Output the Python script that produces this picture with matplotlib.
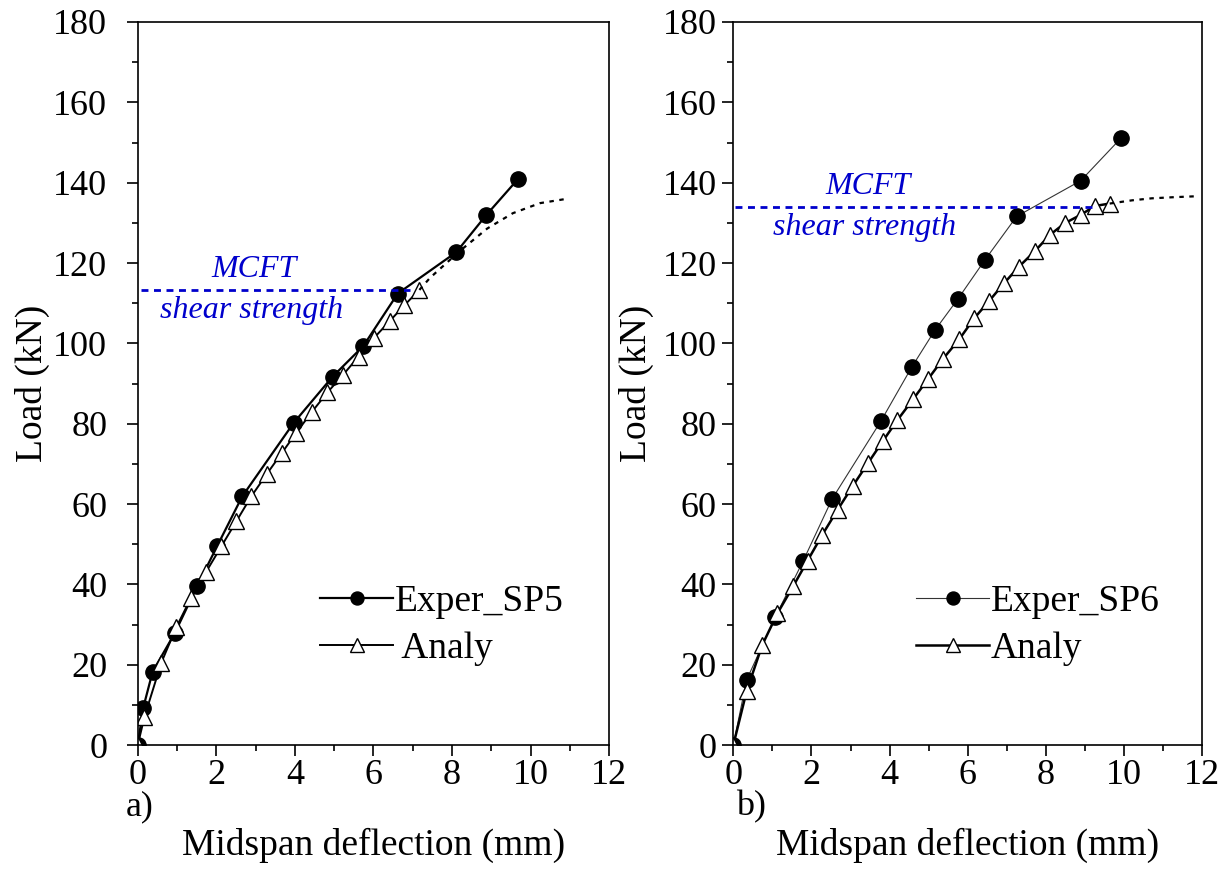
import numpy as np
import matplotlib.pyplot as plt
from matplotlib.ticker import MultipleLocator

# datos
sp5_x = [0, 0.14, 0.38, 0.94, 1.51, 2.02, 2.66, 3.97, 4.96, 5.74, 6.62, 8.11, 8.87, 9.69]
sp5_y = [0, 9.3, 18.3, 27.8, 39.5, 49.5, 61.9, 80.2, 91.7, 99.3, 112.4, 122.7, 131.9, 141.0]

an5_x = [0, 0.17, 0.6, 0.98, 1.36, 1.74, 2.13, 2.51, 2.89, 3.28, 3.66, 4.04, 4.43, 4.83,
         5.23, 5.62, 6.02, 6.41, 6.79, 7.17]
an5_y = [0, 7.0, 20.5, 29.3, 36.7, 43.1, 49.5, 55.7, 61.9, 67.4, 72.6, 77.8, 82.9, 87.8,
         92.2, 96.7, 101.4, 105.5, 109.5, 113.3]
ext5_x = [7.17, 7.44, 8.2, 8.9, 9.55, 10.24, 10.87]
ext5_y = [113.3, 116.3, 123.0, 128.6, 132.4, 134.9, 135.9]

sp6_x = [0, 0.34, 1.07, 1.79, 2.53, 3.78, 4.56, 5.16, 5.75, 6.44, 7.25, 8.89, 9.93]
sp6_y = [0, 16.2, 31.8, 45.9, 61.3, 80.7, 94.0, 103.3, 111.1, 120.8, 131.6, 140.5, 151.2]

an6_x = [0, 0.34, 0.74, 1.13, 1.53, 1.90, 2.28, 2.67, 3.05, 3.44, 3.82, 4.20, 4.60, 4.99,
         5.37, 5.78, 6.16, 6.55, 6.93, 7.31, 7.72, 8.10, 8.48, 8.89, 9.25, 9.63]
an6_y = [0, 13.4, 24.9, 32.8, 39.5, 45.9, 52.4, 58.6, 64.4, 70.1, 75.6, 80.9, 86.1, 91.2,
         96.2, 101.0, 106.2, 110.6, 115.0, 119.1, 123.0, 127.0, 129.9, 132.0, 134.2, 134.8]
ext6_x = [9.63, 10.2, 10.7, 11.3, 11.81]
ext6_y = [134.8, 135.6, 136.1, 136.4, 136.6]

mcft5 = 113.3
mcft6 = 134.0

plt.rcParams['font.family'] = ['Liberation Serif', 'DejaVu Serif']
plt.rcParams['font.size'] = 26

fig = plt.figure(figsize=(12.3, 8.73), dpi=100)
ax1 = fig.add_axes([0.112, 0.1466, 0.3832, 0.8282])
ax2 = fig.add_axes([0.5962, 0.1466, 0.3813, 0.8282])


def formato(ax, letra, pad_y, lab_pad, x_letra):
    ax.set_xlim(0, 12)
    ax.set_ylim(0, 180)
    ax.xaxis.set_major_locator(MultipleLocator(2))
    ax.xaxis.set_minor_locator(MultipleLocator(1))
    ax.yaxis.set_major_locator(MultipleLocator(20))
    ax.yaxis.set_minor_locator(MultipleLocator(10))
    ax.tick_params(which='major', direction='out', length=8, width=1.2, labelsize=26, pad=2)
    ax.tick_params(axis='y', which='major', pad=pad_y)
    ax.tick_params(which='minor', direction='out', length=4.5, width=1.2)
    for s in ax.spines.values():
        s.set_linewidth(1.2)
    ax.set_xlabel('Midspan deflection (mm)', fontsize=27, labelpad=26)
    ax.set_ylabel('Load (kN)', fontsize=27, labelpad=lab_pad)
    ax.text(x_letra, -0.062, letra, transform=ax.transAxes, fontsize=26, ha='left', va='top')


# a)
ax1.plot(sp5_x, sp5_y, color='black', lw=1.6, marker='o', ms=11, mfc='black',
         mec='black', label='Exper_SP5')
ax1.plot(an5_x, an5_y, color='black', lw=1.4, marker='^', ms=12, mfc='white',
         mec='black', mew=1.0, label=' Analy')
ax1.plot(ext5_x, ext5_y, color='black', lw=1.6, ls=(0, (2, 2.5)))
ax1.plot([0.08, 6.93], [mcft5, mcft5], color='#0000cc', lw=2, ls=(0, (2.5, 2)))
ax1.text(2.95, mcft5 + 1.5, 'MCFT', color='#0000cc', style='italic', fontsize=23,
         ha='center', va='bottom')
ax1.text(2.9, mcft5 - 1.5, 'shear strength', color='#0000cc', style='italic',
         fontsize=23, ha='center', va='top')
ax1.legend(loc='upper left', bbox_to_anchor=(0.387, 0.222), frameon=False, fontsize=27,
           handlelength=1.95, handletextpad=0.03, labelspacing=0.33, borderpad=0,
           borderaxespad=0, markerscale=0.85)
formato(ax1, 'a)', 14, 2, -0.025)

# b)
ax2.plot(sp6_x, sp6_y, color='#333333', lw=0.8, marker='o', ms=11, mfc='black',
         mec='black', label='Exper_SP6')
ax2.plot(an6_x, an6_y, color='black', lw=1.8, marker='^', ms=12, mfc='white',
         mec='black', mew=1.0, label='Analy')
ax2.plot(ext6_x, ext6_y, color='black', lw=1.6, ls=(0, (2, 2.5)))
ax2.plot([0.05, 9.2], [mcft6, mcft6], color='#0000cc', lw=2, ls=(0, (2.5, 2)))
ax2.text(3.45, mcft6 + 1.5, 'MCFT', color='#0000cc', style='italic', fontsize=23,
         ha='center', va='bottom')
ax2.text(3.37, mcft6 - 1.5, 'shear strength', color='#0000cc', style='italic',
         fontsize=23, ha='center', va='top')
ax2.legend(loc='upper left', bbox_to_anchor=(0.39, 0.222), frameon=False, fontsize=27,
           handlelength=1.95, handletextpad=0.03, labelspacing=0.33, borderpad=0,
           borderaxespad=0, markerscale=0.85)
formato(ax2, 'b)', 4, 6, 0.005)

fig.savefig('out.png', dpi=100, facecolor='white')
